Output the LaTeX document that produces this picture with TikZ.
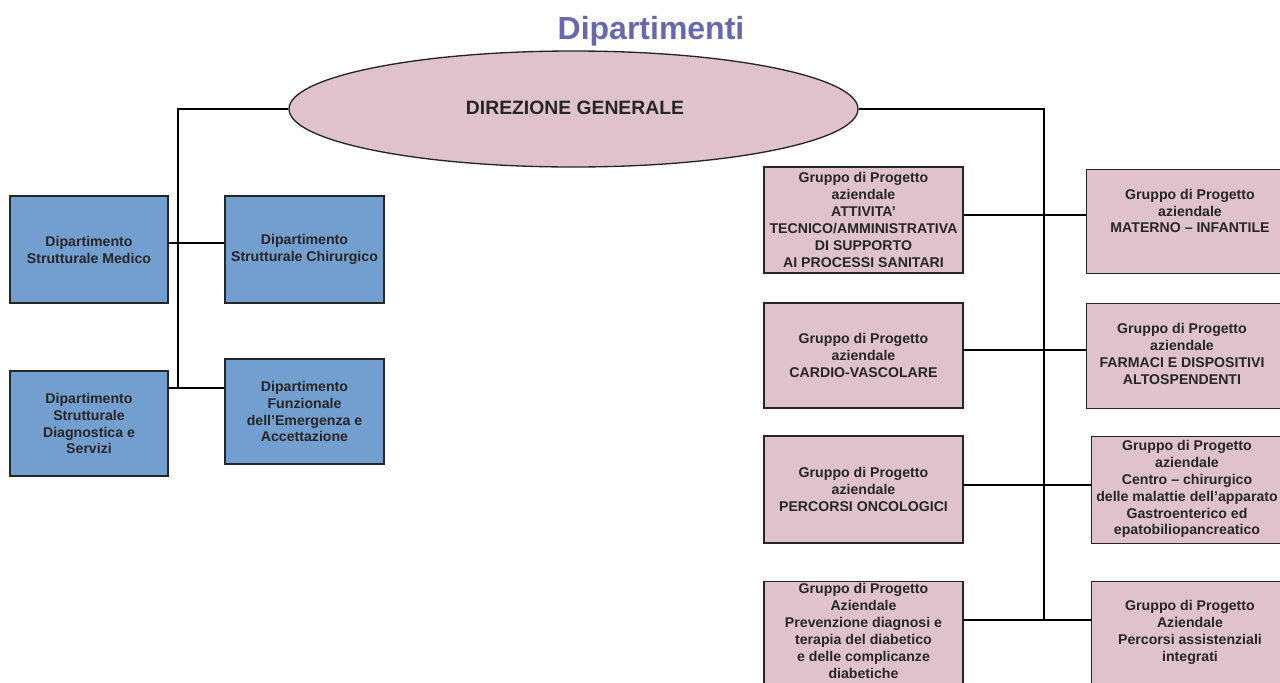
\documentclass[tikz,border=0pt]{standalone}
\usepackage{fontspec}
\setmainfont{Liberation Sans}
\usetikzlibrary{shapes.geometric}
\definecolor{bluebox}{HTML}{729FCF}
\definecolor{pinkbox}{HTML}{E0C2CD}
\definecolor{titlecol}{HTML}{6868AE}
\tikzset{
  px/.style={x=0.75pt,y=-0.75pt},
  boxfont/.style={font=\fontsize{10.6}{12.7}\selectfont\bfseries,text=black!85},
  box/.style={draw=black!85,line width=1pt,rectangle,inner sep=0pt,align=center,boxfont},
  bluenode/.style={box,fill=bluebox},
  pinknode/.style={box,fill=pinkbox},
  boxtext/.style={boxfont,align=center,inner sep=0pt},
  conn/.style={draw=black,line width=0.9pt},
}
\begin{document}
\begin{tikzpicture}[px]
\useasboundingbox (0,0) rectangle (1280,682);
\clip (0,0) rectangle (1280,682);
\fill[white] (0,0) rectangle (1280,682);

% title
\node[font=\fontsize{24}{28}\selectfont\bfseries,text=titlecol] (title) at (651,31) {Dipartimenti};

% ellipse
\node[ellipse,draw=black!85,line width=1pt,fill=pinkbox,minimum width=569*0.75pt,minimum height=116*0.75pt,inner sep=0pt] (dg) at (573.5,109) {};
\node[font=\fontsize{14.5}{16}\selectfont\bfseries,text=black!85] (dgt) at (575,108) {DIREZIONE GENERALE};

% left boxes
\node[bluenode,minimum width=158*0.75pt,minimum height=107*0.75pt] (med) at (89,249.5) {Dipartimento\\Strutturale Medico};
\node[bluenode,minimum width=159*0.75pt,minimum height=107*0.75pt] (chir) at (304.5,249.5) {Dipartimento\\Strutturale Chirurgico};
\node[bluenode,minimum width=158*0.75pt,minimum height=105*0.75pt] (diag) at (89,423.5) {Dipartimento\\Strutturale\\Diagnostica e\\Servizi};
\node[bluenode,minimum width=159*0.75pt,minimum height=105*0.75pt] (funz) at (304.5,411.5) {Dipartimento\\Funzionale\\dell'Emergenza e\\Accettazione};

% right boxes, left column
\node[pinknode,minimum width=199*0.75pt,minimum height=106*0.75pt] (att) at (863.5,220) {Gruppo di Progetto\\aziendale\\ATTIVITA'\\TECNICO/AMMINISTRATIVA\\DI SUPPORTO\\AI PROCESSI SANITARI};
\node[pinknode,minimum width=199*0.75pt,minimum height=105*0.75pt] (card) at (863.5,355.5) {Gruppo di Progetto\\aziendale\\CARDIO-VASCOLARE};
\node[pinknode,minimum width=199*0.75pt,minimum height=107*0.75pt] (onc) at (863.5,489.5) {Gruppo di Progetto\\aziendale\\PERCORSI ONCOLOGICI};
\node[pinknode,minimum width=199*0.75pt,minimum height=120*0.75pt,anchor=north] (diab) at (863.5,581) {};
\node[boxtext,anchor=north] (diabt) at (863.5,583) {Gruppo di Progetto\\Aziendale\\Prevenzione diagnosi e\\terapia del diabetico\\e delle complicanze\\diabetiche};

% right boxes, right column
\node[pinknode,minimum width=220*0.75pt,minimum height=104*0.75pt,anchor=north west] (mat) at (1086,169) {};
\node[boxtext] (matt) at (1190,211) {Gruppo di Progetto\\aziendale\\MATERNO -- INFANTILE};
\node[pinknode,minimum width=220*0.75pt,minimum height=105*0.75pt,anchor=north west] (farm) at (1086,303) {};
\node[boxtext] (farmt) at (1182,354) {Gruppo di Progetto\\aziendale\\FARMACI E DISPOSITIVI\\ALTOSPENDENTI};
\node[pinknode,minimum width=220*0.75pt,minimum height=107*0.75pt,anchor=north west] (gast) at (1091,436) {};
\node[boxtext] (gastt) at (1187,489) {Gruppo di Progetto\\aziendale\\Centro -- chirurgico\\delle malattie dell'apparato\\Gastroenterico ed\\epatobiliopancreatico};
\node[pinknode,minimum width=220*0.75pt,minimum height=120*0.75pt,anchor=north west] (perc) at (1091,581) {};
\node[boxtext] (perct) at (1190,632) {Gruppo di Progetto\\Aziendale\\Percorsi assistenziali\\integrati};

% connectors left
\coordinate (lb) at (178,388);
\draw[conn] (dg.west) -| (lb);
\draw[conn] (med.east |- 0,243) -- (chir.west |- 0,243);
\draw[conn] (diag.east |- 0,388) -- (funz.west |- 0,388);

% connectors right
\coordinate (rb) at (1044,620);
\draw[conn] (dg.east) -| (rb);
\draw[conn] (att.east |- 0,215) -- (mat.west |- 0,215);
\draw[conn] (card.east |- 0,350) -- (farm.west |- 0,350);
\draw[conn] (onc.east |- 0,485) -- (gast.west |- 0,485);
\draw[conn] (diab.east |- 0,620) -- (perc.west |- 0,620);
\end{tikzpicture}
\end{document}
